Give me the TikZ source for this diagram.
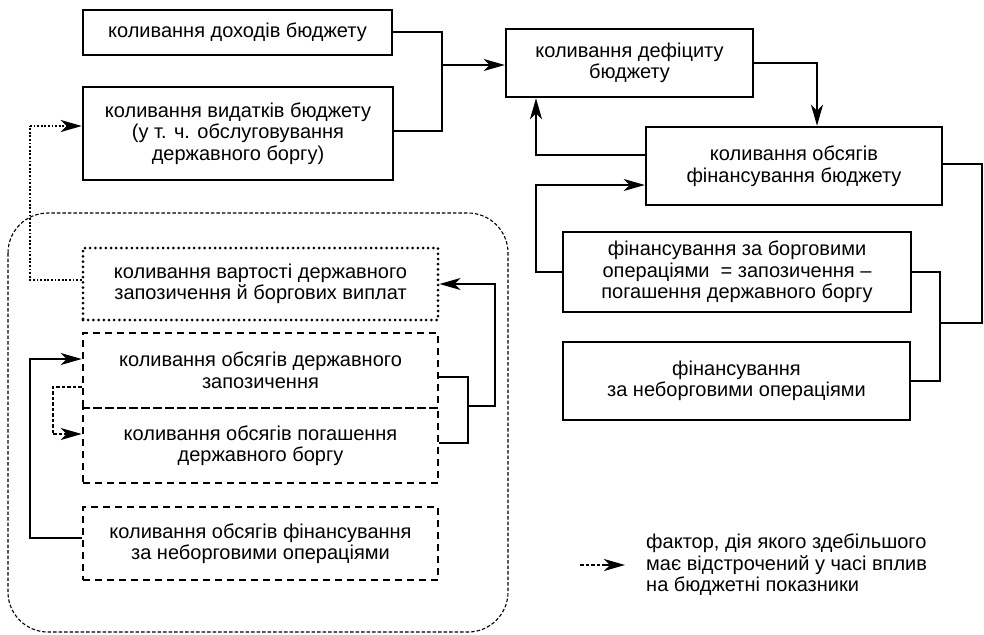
\documentclass[tikz,border=0pt]{standalone}
\usepackage{fontspec}
\setmainfont{Liberation Sans}
\usetikzlibrary{arrows.meta}
\begin{document}
\begin{tikzpicture}[x=1pt,y=-1pt,
  txt/.style={font=\fontsize{20}{21.5}\selectfont, align=center, inner sep=0pt},
  solidbox/.style={txt, draw, line width=2.5pt},
  dotbox/.style={txt, draw, line width=3pt, line cap=round, dash pattern=on 0pt off 5.2pt},
  dashbox/.style={txt, draw, line width=2.6pt, dash pattern=on 7pt off 5pt},
  conn/.style={line width=1.2pt},
  tip/.style={-{Stealth[length=21pt,width=12pt,inset=6pt]}},
  arr/.style={conn, tip},
  dotconn/.style={line width=2pt, dash pattern=on 1.8pt off 1.8pt},
  thindash/.style={line width=1.1pt, dash pattern=on 3.5pt off 2pt}
]
\useasboundingbox (0,0) rectangle (984,634);

% group frame
\draw[thindash, rounded corners=40pt] (8,213) rectangle (508,632);

% solid boxes
\node[solidbox, minimum width=309pt, minimum height=45pt] (inc) at (237.5,32.5) {коливання доходів бюджету};
\node[solidbox, minimum width=310pt, minimum height=93pt] (exp) at (238,133.5) {коливання видатків бюджету\\(у т. ч. обслуговування\\державного боргу)};
\node[solidbox, minimum width=247pt, minimum height=68pt] (def) at (629.5,63) {коливання дефіциту\\бюджету};
\node[solidbox, minimum width=296pt, minimum height=78pt] (fin) at (794,166) {коливання обсягів\\фінансування бюджету};
\node[solidbox, minimum width=348pt, minimum height=80pt] (debt) at (737,272) {фінансування за борговими\\операціями\ \ = запозичення –\\погашення державного боргу};
\node[solidbox, minimum width=347pt, minimum height=78pt] (ndebt) at (736.5,381) {фінансування\\за неборговими операціями};

% left group
\node[dotbox, minimum width=355pt, minimum height=72pt] (cost) at (260.5,284) {коливання вартості державного\\запозичення й боргових виплат};
\node[dashbox, minimum width=355pt, minimum height=75pt] (borrow) at (260.5,370.5) {коливання обсягів державного\\запозичення};
\node[dashbox, minimum width=355pt, minimum height=75pt] (repay) at (260.5,445.5) {коливання обсягів погашення\\державного боргу};
\node[dashbox, minimum width=355pt, minimum height=73pt] (nfin) at (260.5,543.5) {коливання обсягів фінансування\\за неборговими операціями};

% coordinates for bends
\coordinate (j1) at (442,65);
\coordinate (j2) at (940,323);
\coordinate (j3) at (468,406);
\coordinate (xa) at (817,0);
\coordinate (xb) at (536,0);
\coordinate (xc) at (982,0);
\coordinate (xd) at (30,0);
\coordinate (xe) at (53,0);
\coordinate (xf) at (495,0);

% top connectors
\draw[conn] ([yshift=0.5pt]inc.east) -| (j1);
\draw[conn] ([yshift=2.5pt]exp.east) -| (j1);
\draw[arr] (j1) -- (def.west |- j1);
\draw[arr] (def.east) -| (fin.north -| xa);
\draw[arr] ([yshift=11pt]fin.west) -| (def.south -| xb);
\draw[arr] (debt.west) -| (xb |- 0,185) -- (fin.west |- 0,185);
\draw[conn] ([yshift=2pt]fin.east) -| (xc |- j2) -- (j2);
\draw[conn] (debt.east) -| (j2) |- (ndebt.east);

% left connectors
\draw[dotconn] ([yshift=4pt]cost.west) -| (xd |- 0,126);
\draw[dotconn, tip] (xd |- 0,126) -- (exp.west |- 0,126);
\draw[conn] ([yshift=-6.5pt]borrow.east) -| (j3);
\draw[conn] ([yshift=2.5pt]repay.east) -| (j3);
\draw[arr] (j3) -| (xf |- cost.east) -- (cost.east);
\draw[arr] ([yshift=5.5pt]nfin.west) -| (xd |- 0,359) -- (borrow.west |- 0,359);
\draw[thindash] ([yshift=-16.5pt]borrow.west) -| (xe |- 0,434);
\draw[thindash, tip] (xe |- 0,434) -- (repay.west |- 0,434);

% legend
\coordinate (l1) at (580,565);
\node[txt, align=left, anchor=west] (leg) at (646,565) {фактор, дія якого здебільшого\\має відстрочений у часі вплив\\на бюджетні показники};
\draw[thindash] (l1) -- ++(25,0) coordinate (l2);
\draw[conn, tip] (l2) -- ([xshift=-21pt]leg.west);
\end{tikzpicture}
\end{document}
